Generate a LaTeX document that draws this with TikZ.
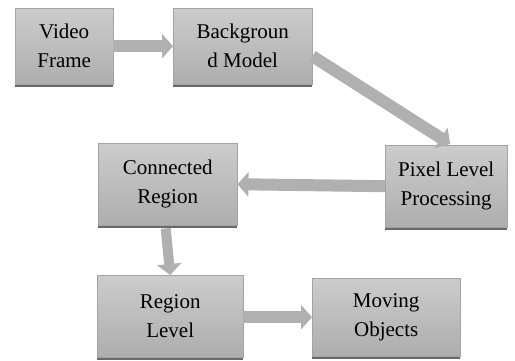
\documentclass[tikz,border=0pt]{standalone}
\usepackage{fontspec}
\setmainfont{Liberation Serif}
\usetikzlibrary{arrows.meta,shadows,calc}
\begin{document}
\begin{tikzpicture}[x=1pt,y=-1pt,
  box/.style={anchor=north west, inner sep=0pt, align=center,
    top color=gray!40, bottom color=gray!64, draw=gray!72, line width=0.4pt,
    drop shadow={shadow xshift=0pt, shadow yshift=-3pt, fill=gray!70!black, opacity=0.9},
    font=\fontsize{21}{29}\selectfont, text=black},
  fat/.style={line width=12pt, draw=gray!62, -{Triangle[width=24pt,length=11pt]}}
]
\useasboundingbox[fill=white] (0,0) rectangle (515,360);
\node[box, minimum width=98pt, minimum height=76pt] (vf) at (15,8) {Video\\Frame};
\node[box, minimum width=139pt, minimum height=76pt] (bg) at (173,8) {Backgroun\\d Model};
\node[box, minimum width=122pt, minimum height=82pt] (px) at (385,145) {Pixel Level\\Processing};
\node[box, minimum width=139pt, minimum height=82pt] (cr) at (98,143) {Connected\\Region};
\node[box, minimum width=146pt, minimum height=82pt] (rl) at (97,275) {Region\\Level};
\node[box, minimum width=148pt, minimum height=78pt] (mo) at (312,278) {Moving\\Objects};
\draw[fat] (vf.east) -- (bg.west);
\draw[fat] ($(bg.east)+(0,10)$) -- ($(px.north)+(4,-1)$);
\draw[fat] (px.west) -- (cr.east);
\draw[fat, line width=10pt] ($(cr.south)+(-2,3)$) -- ($(rl.north)+(0,0)$ -| {$(cr.south)+(-2,3)$});
\draw[fat] (rl.east |- mo.west) -- (mo.west);
\end{tikzpicture}
\end{document}
